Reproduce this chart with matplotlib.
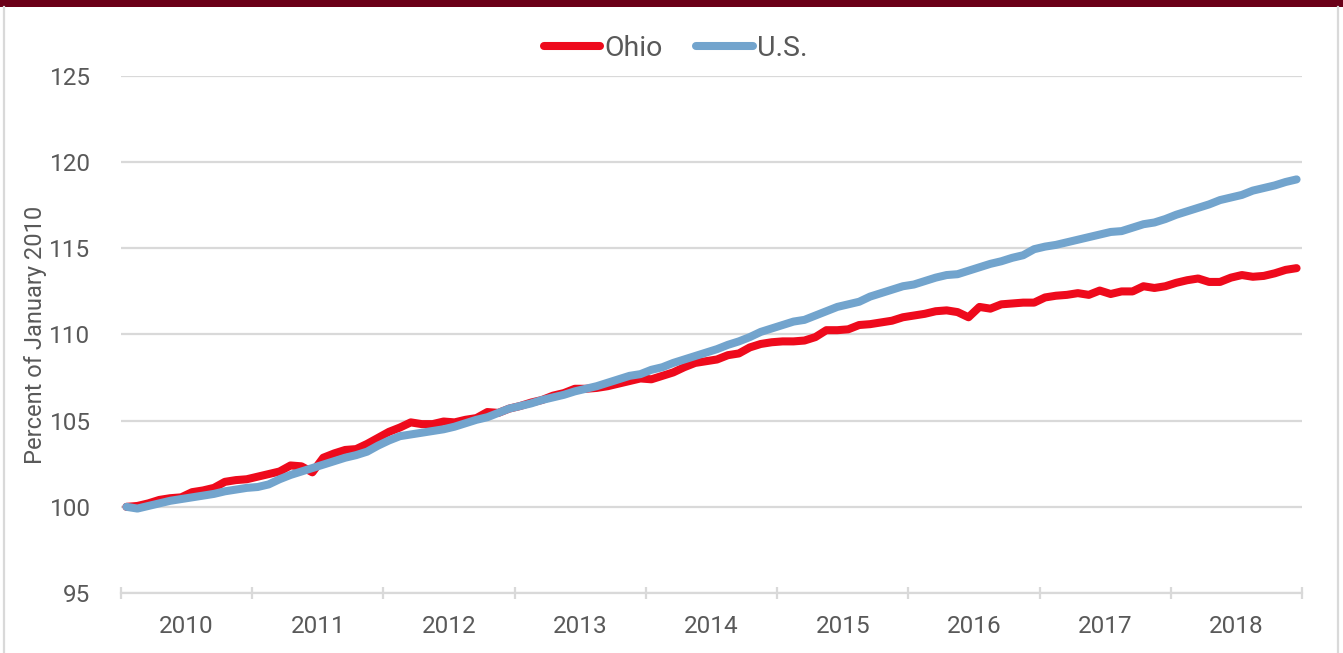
import numpy as np
import matplotlib.pyplot as plt
from matplotlib.lines import Line2D

# Monthly employment index, Jan 2010 = 100 (Jan 2010 .. Dec 2018)
years = ['2010', '2011', '2012', '2013', '2014', '2015', '2016', '2017', '2018']

ohio = [100.0, 100.05, 100.2, 100.4, 100.5, 100.55, 100.85, 100.95, 101.1, 101.45, 101.55, 101.6,
        101.75, 101.9, 102.05, 102.4, 102.35, 102.0, 102.85, 103.1, 103.3, 103.35, 103.65, 104.0,
        104.35, 104.6, 104.9, 104.8, 104.8, 104.95, 104.9, 105.05, 105.15, 105.5, 105.45, 105.7,
        105.85, 106.05, 106.2, 106.45, 106.6, 106.85, 106.85, 106.9, 107.0, 107.15, 107.3, 107.45,
        107.4, 107.6, 107.8, 108.1, 108.35, 108.45, 108.55, 108.8, 108.9, 109.25, 109.45, 109.55,
        109.6, 109.6, 109.65, 109.85, 110.25, 110.25, 110.3, 110.55, 110.6, 110.7, 110.8, 111.0,
        111.1, 111.2, 111.35, 111.4, 111.3, 111.0, 111.6, 111.5, 111.75, 111.8, 111.85, 111.85,
        112.15, 112.25, 112.3, 112.4, 112.3, 112.55, 112.35, 112.5, 112.5, 112.8, 112.7, 112.8,
        113.0, 113.15, 113.25, 113.05, 113.05, 113.3, 113.45, 113.35, 113.4, 113.55, 113.75, 113.85]

us = [100.0, 99.9, 100.05, 100.2, 100.35, 100.45, 100.55, 100.65, 100.75, 100.9, 101.0, 101.1,
      101.15, 101.3, 101.6, 101.85, 102.05, 102.25, 102.45, 102.65, 102.85, 103.0, 103.2, 103.55,
      103.85, 104.1, 104.2, 104.3, 104.4, 104.5, 104.65, 104.85, 105.05, 105.2, 105.45, 105.7,
      105.85, 106.0, 106.2, 106.35, 106.5, 106.7, 106.85, 107.0, 107.2, 107.4, 107.6, 107.7,
      107.95, 108.1, 108.35, 108.55, 108.75, 108.95, 109.15, 109.4, 109.6, 109.85, 110.15, 110.35,
      110.55, 110.75, 110.85, 111.1, 111.35, 111.6, 111.75, 111.9, 112.2, 112.4, 112.6, 112.8,
      112.9, 113.1, 113.3, 113.45, 113.5, 113.7, 113.9, 114.1, 114.25, 114.45, 114.6, 114.95,
      115.1, 115.2, 115.35, 115.5, 115.65, 115.8, 115.95, 116.0, 116.2, 116.4, 116.5, 116.7,
      116.95, 117.15, 117.35, 117.55, 117.8, 117.95, 118.1, 118.35, 118.5, 118.65, 118.85, 119.0]

red = '#ee0a1c'
blue = '#72a4cd'
grid_col = '#d9d9d9'
text_col = '#595959'
plt.rcParams['font.family'] = ['Roboto', 'DejaVu Sans']

fig = plt.figure(figsize=(13.43, 6.53), dpi=100)
ax = fig.add_axes([0.0901, 0.0919, 0.8794, 0.7917])

x = np.arange(len(ohio))
ax.plot(x, ohio, color=red, lw=5.8, solid_capstyle='round', solid_joinstyle='round', zorder=3)
ax.plot(x, us, color=blue, lw=5.8, solid_capstyle='round', solid_joinstyle='round', zorder=4)

ax.set_xlim(-0.5, len(ohio) - 0.5)
ax.set_ylim(95, 125)
ax.set_yticks(np.arange(95, 126, 5))
ax.yaxis.grid(True, color=grid_col, lw=1.6)
ax.set_axisbelow(True)

# year boundaries as ticks, labels centred in each year
ax.set_xticks(np.arange(-0.5, len(ohio), 12))
ax.set_xticklabels([])
ax.set_xticks(np.arange(5.5, len(ohio), 12), minor=True)
ax.set_xticklabels(years, minor=True)
ax.tick_params(axis='x', which='major', direction='inout', length=9, width=1.6, color=grid_col)
ax.tick_params(axis='x', which='minor', length=0, pad=16, labelsize=17.5, labelcolor=text_col)
ax.tick_params(axis='y', length=0, pad=22, labelsize=17.5, labelcolor=text_col)

for s in ['top', 'right', 'left']:
    ax.spines[s].set_visible(False)
ax.spines['bottom'].set_color(grid_col)
ax.spines['bottom'].set_linewidth(1.6)

ax.set_ylabel('Percent of January 2010', fontsize=17, color=text_col, labelpad=2)

handles = [Line2D([], [], color=red, lw=5.8, solid_capstyle='round'),
           Line2D([], [], color=blue, lw=5.8, solid_capstyle='round')]
fig.legend(handles, ['Ohio', 'U.S.'], loc='center', bbox_to_anchor=(0.503, 0.926), ncol=2,
           frameon=False, fontsize=20.5, handlelength=2.0, handletextpad=0.15, columnspacing=1.15,
           labelcolor=text_col)

# page decoration: maroon bar on top, light frame at the sides
fig.add_artist(plt.Rectangle((0, 1 - 7 / 653), 1, 7 / 653, transform=fig.transFigure,
                             color='#6b0018', lw=0))
fig.add_artist(Line2D([4 / 1343, 4 / 1343], [0, 1 - 7 / 653], transform=fig.transFigure,
                      color=grid_col, lw=1.6))
fig.add_artist(Line2D([1338 / 1343, 1338 / 1343], [0, 1 - 7 / 653], transform=fig.transFigure,
                      color=grid_col, lw=1.6))

fig.savefig('out.png', dpi=100)
